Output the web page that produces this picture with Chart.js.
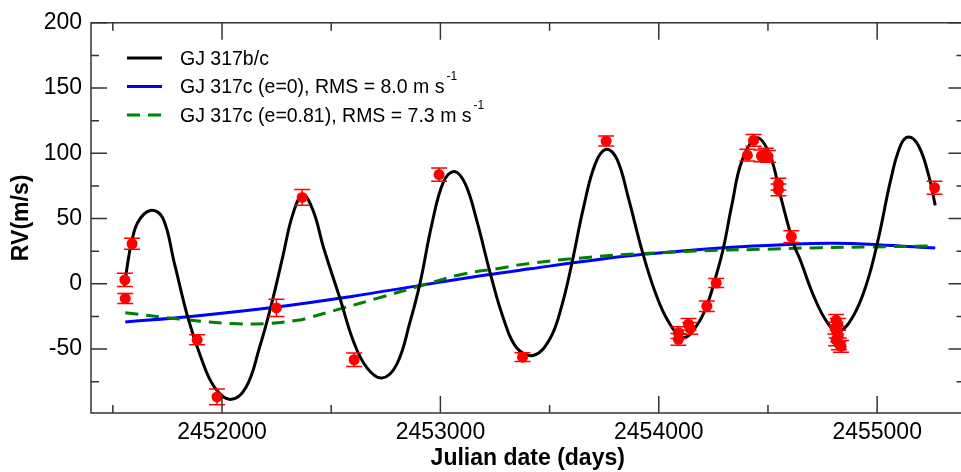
<!DOCTYPE html>
<html>
<head>
<meta charset="utf-8">
<script src="https://cdn.jsdelivr.net/npm/chart.js@4.4.1/dist/chart.umd.min.js"></script>
<style>
  html, body { margin: 0; padding: 0; overflow: hidden; background: #fff; }
  #wrap { width: 970px; height: 472px; }
</style>
</head>
<body>
<div id="wrap"><canvas id="rvChart" width="970" height="472"></canvas></div>
<script>
// GJ 317 radial velocities and model curves
const MODEL_JD = [2451553, 2451568, 2451583, 2451614, 2451672, 2451728, 2451782, 2451843, 2451904, 2451965,
  2452038, 2452110, 2452171, 2452225, 2452278, 2452324, 2452370, 2452418, 2452464, 2452541,
  2452602, 2452663, 2452732, 2452800, 2452861, 2452907, 2452961, 2453014, 2453063, 2453113,
  2453167, 2453228, 2453289, 2453350, 2453428, 2453503, 2453556, 2453602, 2453655, 2453709,
  2453759, 2453808, 2453861, 2453923, 2453984, 2454045, 2454113, 2454175, 2454220, 2454266,
  2454297, 2454335, 2454381, 2454449, 2454510, 2454556, 2454617, 2454648, 2454709, 2454770,
  2454823, 2454892, 2454953, 2455007, 2455060, 2455106, 2455144, 2455190, 2455236, 2455266];
const MODEL_RV = [-1.7, 15.7, 29.4, 47, 56.2, 50.7, 15.7, -25.5, -56.7, -79.2,
  -88.6, -79.2, -49.2, -16.7, 20.7, 53.2, 68.2, 55.7, 28.2, -11.7,
  -44.2, -64.2, -72.2, -61.7, -29.2, 0.7, 45.7, 78.1, 86.1, 76.9,
  48.2, 8.2, -26.7, -49.2, -54.7, -41.7, -16.7, 15.7, 58.2, 91.9,
  103.1, 95.7, 65.7, 25.7, -6.7, -29.2, -41.2, -31.7, -16.7, 8.2,
  28.2, 60.7, 94.4, 111.8, 98.1, 68.2, 30.7, 18.2, -9.2, -29.2,
  -36.7, -24.2, 0.7, 35.7, 78.1, 105.6, 112.4, 105.6, 83.1, 60.1];

// GJ 317c, circular orbit
const CIRC_JD = [2451557, 2451858, 2452240, 2452600, 2452907, 2453200, 2453411, 2453732, 2453930, 2454281, 2454617, 2454800, 2454999, 2455266];
const CIRC_RV = [-29.2, -25, -18, -9.5, -1.2, 6.5, 11.5, 18.8, 22.6, 27.5, 30.4, 31.0, 30.0, 27.5];

// GJ 317c, e = 0.81
const ECC_JD = [2451557, 2451751, 2451858, 2452041, 2452194, 2452347, 2452408, 2452541, 2452724, 2452907, 2453090, 2453274, 2453411, 2453671, 2453930, 2454281, 2454465, 2454739, 2454953, 2455266];
const ECC_RV = [-22.2, -26, -28, -30.5, -30.5, -28, -25.5, -19.2, -10.5, -1.7, 7, 12, 15.7, 20.2, 23.2, 25.7, 26.4, 27.7, 28.2, 29];

// observations
const OBS_JD = [2451557, 2451555, 2451588, 2451886, 2451977, 2452249, 2452367, 2452605, 2452994, 2453376,
  2453759, 2454090, 2454090, 2454136, 2454144, 2454220, 2454263, 2454406, 2454434, 2454470,
  2454490, 2454500, 2454548, 2454548, 2454607, 2454812, 2454820, 2454808, 2454815, 2454822,
  2454812, 2454825, 2454835, 2455263];
const OBS_RV = [-11.2, 3.0, 30.7, -42.9, -86.7, -18.5, 66.2, -58.2, 83.7, -56.2,
  109.4, -42.5, -37.5, -31.0, -34.2, -17.2, 0.6, 98.6, 109.9, 98.1,
  99.4, 97.6, 76.4, 71.9, 36.2, -28, -31, -34, -37, -40,
  -43, -46, -48, 73.6];
const OBS_ERR = [3.8, 5.0, 4.3, 3.8, 6.0, 6.6, 6.0, 5.1, 5.1, 3.4,
  3.8, 4.5, 4.5, 4.5, 4.5, 4.0, 3.5, 4.5, 4.5, 4.5,
  4.5, 4.5, 4.5, 4.5, 4.5, 4.5, 4.5, 4.5, 4.5, 4.5,
  4.5, 4.5, 4.5, 4.9];

const X_TICKS = [2452000, 2453000, 2454000, 2455000];
const X_MINOR = [2451500, 2452500, 2453500, 2454500];
const Y_TICKS = [-50, 0, 50, 100, 150, 200];
const Y_MINOR = [-75, -25, 25, 75, 125, 175];

const LEGEND_LABELS = ['GJ 317b/c', 'GJ 317c (e=0), RMS = 8.0 m s', 'GJ 317c (e=0.81), RMS = 7.3 m s'];
const LEGEND_SUP = ['', '-1', '-1'];

const FONT = '"Liberation Sans", Arial, sans-serif';

function toPoints(xs, ys) {
    return xs.map((t, i) => ({ x: t, y: ys[i] }));
}

// error bars with caps
const errorBars = {
    id: 'errorBars',
    afterDatasetsDraw(chart) {
        const { ctx, scales: { x, y } } = chart;
        ctx.save();
        ctx.strokeStyle = '#ff0000';
        ctx.lineWidth = 1.5;
        ctx.beginPath();
        OBS_JD.forEach((t, i) => {
            const px = x.getPixelForValue(t);
            const top = y.getPixelForValue(OBS_RV[i] + OBS_ERR[i]);
            const bot = y.getPixelForValue(OBS_RV[i] - OBS_ERR[i]);
            ctx.moveTo(px, top); ctx.lineTo(px, bot);
            ctx.moveTo(px - 8, top); ctx.lineTo(px + 8, top);
            ctx.moveTo(px - 8, bot); ctx.lineTo(px + 8, bot);
        });
        ctx.stroke();
        ctx.restore();
    }
};

// box frame with inward ticks on all four sides
const frameTicks = {
    id: 'frameTicks',
    afterDraw(chart) {
        const { ctx, chartArea: a, scales: { x, y } } = chart;
        ctx.save();
        ctx.strokeStyle = '#333';
        ctx.lineWidth = 1.5;
        ctx.strokeRect(a.left, a.top, a.right - a.left, a.bottom - a.top);
        ctx.beginPath();
        const xt = (v, len) => {
            const px = x.getPixelForValue(v);
            ctx.moveTo(px, a.bottom); ctx.lineTo(px, a.bottom - len);
            ctx.moveTo(px, a.top); ctx.lineTo(px, a.top + len);
        };
        const yt = (v, len) => {
            const py = y.getPixelForValue(v);
            ctx.moveTo(a.left, py); ctx.lineTo(a.left + len, py);
            ctx.moveTo(a.right, py); ctx.lineTo(a.right - len, py);
        };
        X_TICKS.forEach(v => xt(v, 17));
        X_MINOR.forEach(v => xt(v, 8));
        Y_TICKS.forEach(v => yt(v, 16));
        Y_MINOR.forEach(v => yt(v, 8));
        ctx.stroke();
        ctx.restore();
    }
};

// legend inside the plot, with superscript units
const legendBox = {
    id: 'legendBox',
    afterDraw(chart) {
        const { ctx } = chart;
        const styles = [
            { color: '#000000', dash: [] },
            { color: '#0000ff', dash: [] },
            { color: '#008000', dash: [13, 8] }
        ];
        const rows = [58.5, 87, 115.5];
        ctx.save();
        LEGEND_LABELS.forEach((label, i) => {
            const yy = rows[i];
            ctx.strokeStyle = styles[i].color;
            ctx.lineWidth = 3;
            ctx.setLineDash(styles[i].dash);
            ctx.beginPath();
            ctx.moveTo(127, yy - 0.5);
            ctx.lineTo(162, yy - 0.5);
            ctx.stroke();
            ctx.setLineDash([]);
            ctx.fillStyle = '#000';
            ctx.textBaseline = 'middle';
            ctx.font = '19.5px ' + FONT;
            ctx.fillText(label, 180, yy + 1);
            if (LEGEND_SUP[i]) {
                const w = ctx.measureText(label).width;
                ctx.font = '12px ' + FONT;
                ctx.fillText(LEGEND_SUP[i], 180 + w + 2, yy - 10);
            }
        });
        ctx.restore();
    }
};

const curveStyle = {
    type: 'line',
    borderWidth: 3,
    pointRadius: 0,
    tension: 0.4,
    fill: false
};

const ctx = document.getElementById('rvChart');
new Chart(ctx.getContext('2d'), {
    type: 'scatter',
    data: {
        datasets: [
            {
                label: 'data',
                data: toPoints(OBS_JD, OBS_RV),
                backgroundColor: '#ff0000',
                borderWidth: 0,
                pointRadius: 5.5,
                order: 0
            },
            Object.assign({}, curveStyle, {
                label: LEGEND_LABELS[0],
                data: toPoints(MODEL_JD, MODEL_RV),
                borderColor: '#000000',
                order: 1
            }),
            Object.assign({}, curveStyle, {
                label: LEGEND_LABELS[2],
                data: toPoints(ECC_JD, ECC_RV),
                borderColor: '#008000',
                borderDash: [13, 8],
                order: 2
            }),
            Object.assign({}, curveStyle, {
                label: LEGEND_LABELS[1],
                data: toPoints(CIRC_JD, CIRC_RV),
                borderColor: '#0000ff',
                order: 3
            })
        ]
    },
    options: {
        responsive: false,
        animation: false,
        layout: { padding: { top: 14, right: 4, left: 0, bottom: 0 } },
        plugins: {
            legend: { display: false },
            tooltip: { enabled: false }
        },
        scales: {
            x: {
                type: 'linear',
                min: 2451400,
                max: 2455400,
                afterBuildTicks: s => { s.ticks = X_TICKS.map(v => ({ value: v })); },
                afterFit: s => { s.height = 59; },
                grid: { display: false, drawTicks: false },
                border: { display: false },
                ticks: {
                    color: '#000',
                    padding: 6,
                    maxRotation: 0,
                    font: { family: FONT, size: 23 },
                    callback: v => String(v)
                },
                title: {
                    display: true,
                    text: 'Julian date (days)',
                    color: '#000',
                    padding: { top: 0, bottom: 0 },
                    font: { family: FONT, size: 23, weight: 'bold' }
                }
            },
            y: {
                min: -99,
                max: 200,
                afterBuildTicks: s => { s.ticks = Y_TICKS.map(v => ({ value: v })); },
                afterFit: s => { s.width = 91; },
                grid: { display: false, drawTicks: false },
                border: { display: false },
                ticks: {
                    color: '#000',
                    padding: 9,
                    font: { family: FONT, size: 23 },
                    callback: v => String(v)
                },
                title: {
                    display: true,
                    text: 'RV(m/s)',
                    color: '#000',
                    padding: { top: 8, bottom: 0 },
                    font: { family: FONT, size: 23, weight: 'bold' }
                }
            }
        }
    },
    plugins: [errorBars, frameTicks, legendBox]
});
</script>
</body>
</html>
